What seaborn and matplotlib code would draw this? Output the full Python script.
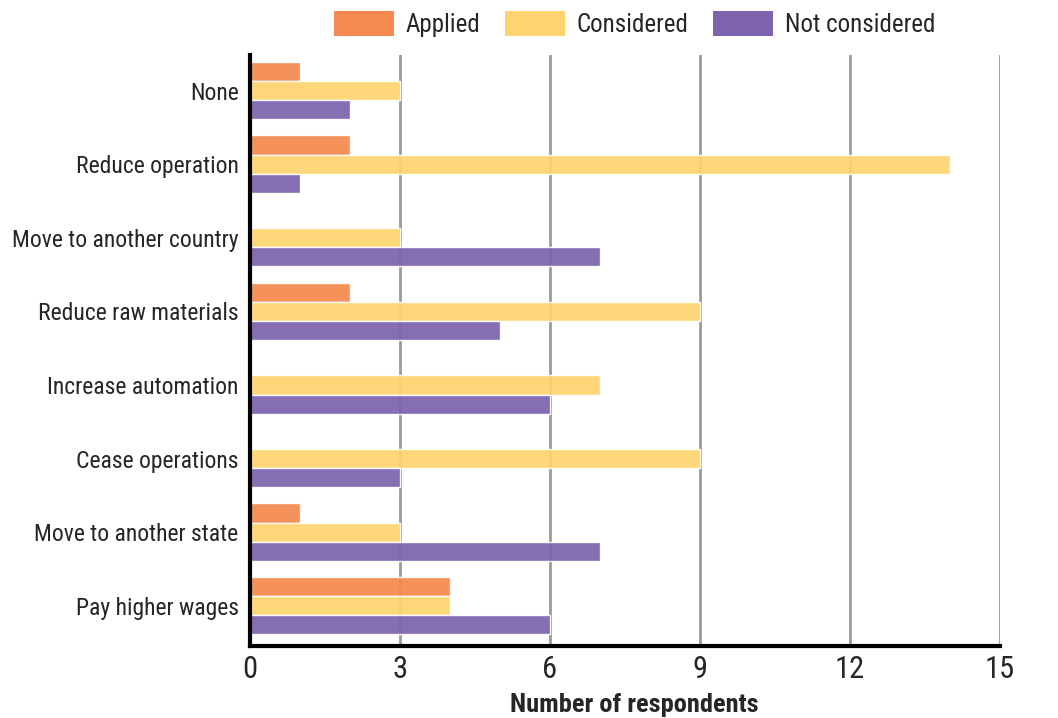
import matplotlib
matplotlib.use("Agg")
import matplotlib.pyplot as plt
import seaborn as sns
import pandas as pd
from matplotlib import font_manager

categories = ["None", "Reduce operation", "Move to another country", "Reduce raw materials",
              "Increase automation", "Cease operations", "Move to another state", "Pay higher wages"]
applied = [1, 2, 0, 2, 0, 0, 1, 4]
considered = [3, 14, 3, 9, 7, 9, 3, 4]
not_considered = [2, 1, 7, 5, 6, 3, 7, 6]
series_names = ["Applied", "Considered", "Not considered"]
colors = ["#F58A50", "#FFD470", "#7D63AE"]
x_ticks = [0, 3, 6, 9, 12, 15]

sns.set_theme(style="white")
names = {f.name for f in font_manager.fontManager.ttflist}
fam = [f for f in ["Roboto Condensed", "Liberation Sans Narrow", "DejaVu Sans"] if f in names]
plt.rcParams['font.family'] = fam + ["DejaVu Sans"]

rows = []
for i, c in enumerate(categories):
    for s, vals in zip(series_names, [applied, considered, not_considered]):
        rows.append({"category": c, "series": s, "value": vals[i]})
df = pd.DataFrame(rows)

fig = plt.figure(figsize=(10.58, 7.18), dpi=100)
ax = fig.add_axes([0.236, 0.1, 0.709, 0.823])
ax.set_axisbelow(True)
for t in x_ticks[1:]:
    ax.axvline(t, color="#9a9a9a", lw=2, zorder=0)

sns.barplot(data=df, y="category", x="value", hue="series", order=categories,
            hue_order=series_names, palette=colors, saturation=1, orient="h", width=0.78,
            edgecolor="white", linewidth=1, alpha=0.93, ax=ax, legend=True)

ax.set_xlim(0, 15)
ax.set_ylim(len(categories) - 0.45, -0.48)
ax.set_xticks(x_ticks)
ax.set_xticklabels([str(t) for t in x_ticks], fontsize=22)
ax.tick_params(axis="y", labelsize=17, length=0, pad=8)
ax.tick_params(axis="x", length=0, pad=6)
ax.set_ylabel("")
ax.set_xlabel("Number of respondents", fontsize=19, fontweight="bold", labelpad=0)
ax.xaxis.set_label_coords(0.513, -0.08)
for side in ["top", "right"]:
    ax.spines[side].set_visible(False)
for side in ["left", "bottom"]:
    ax.spines[side].set_color("black")
    ax.spines[side].set_linewidth(3)

leg = ax.legend(loc="lower center", bbox_to_anchor=(0.513, 1.005), ncol=3, frameon=False,
                fontsize=18, handlelength=2.4, handleheight=1.15, columnspacing=1.0,
                handletextpad=0.45, borderaxespad=0.2)
for h in leg.legend_handles:
    h.set_edgecolor("none")
    h.set_alpha(1)

fig.savefig("out.png", dpi=100)
